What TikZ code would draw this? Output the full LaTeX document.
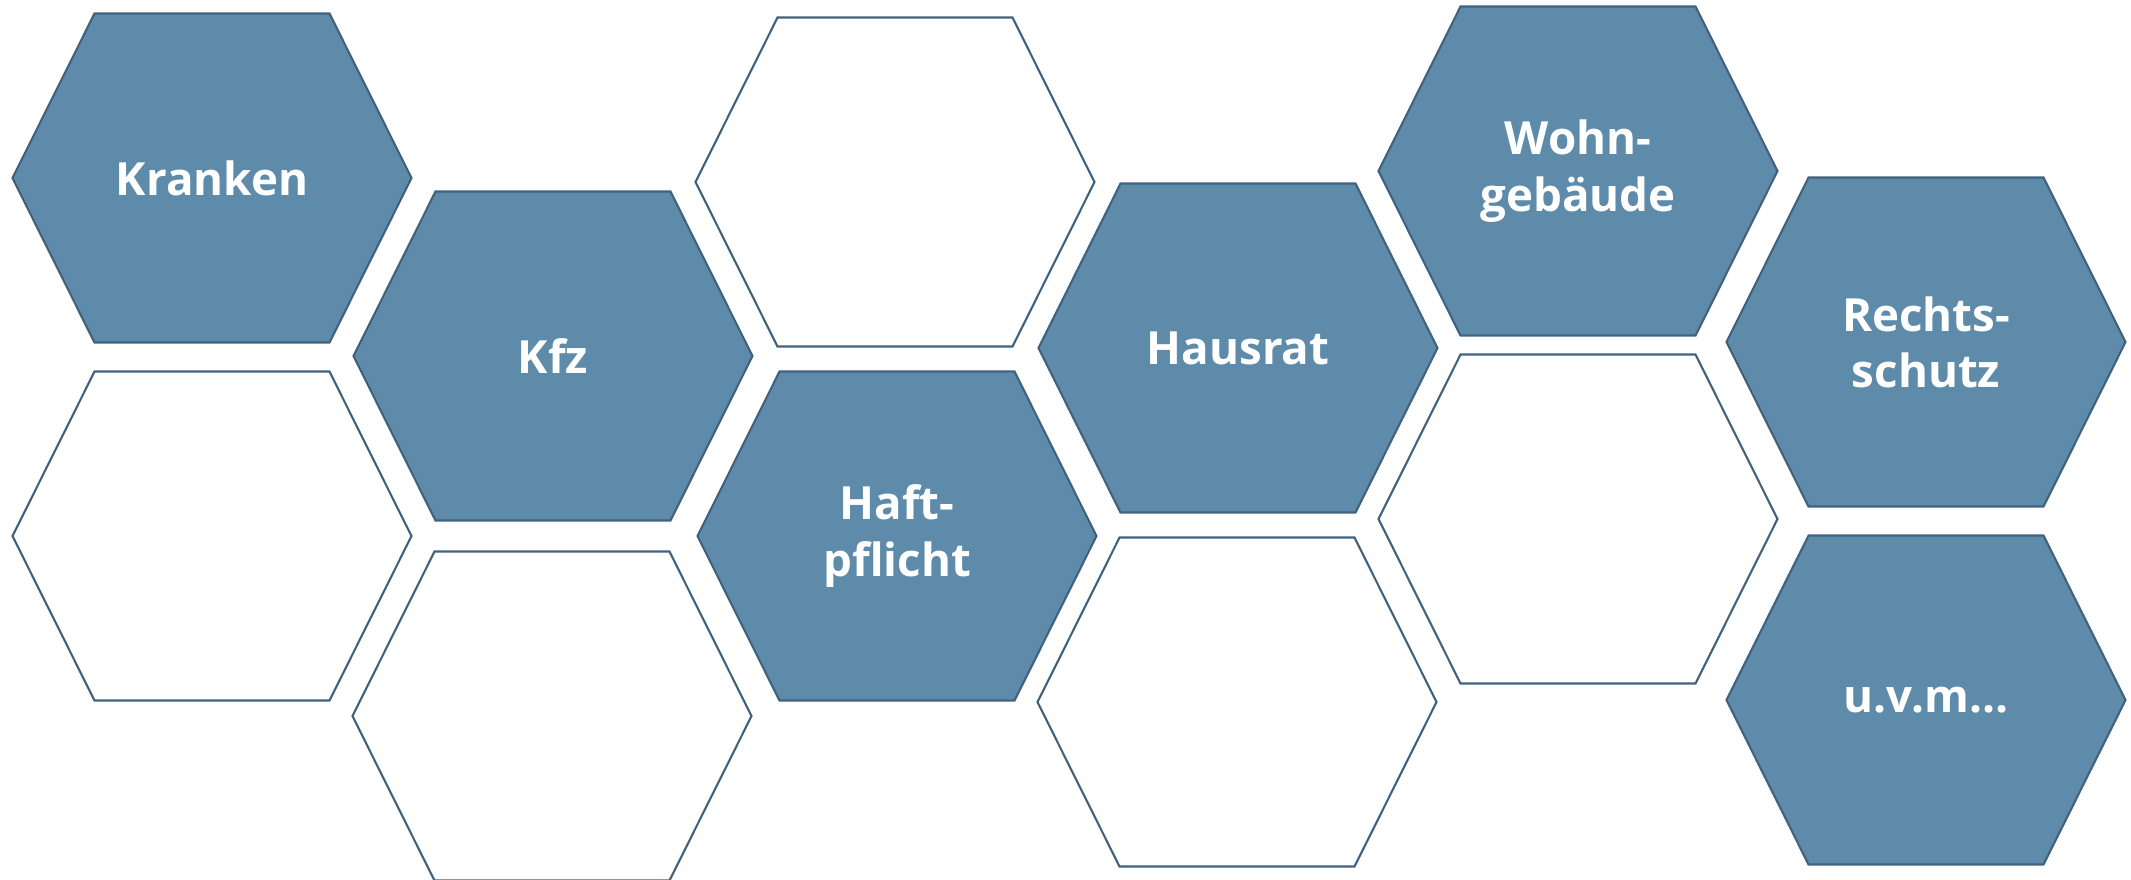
\documentclass[tikz,border=0pt]{standalone}
\usepackage{fontspec}
\setmainfont{Open Sans}
\usepackage{xcolor}
\usepackage{tikz}
\usetikzlibrary{shapes.symbols}

\definecolor{hexblue}{HTML}{5F8BAB}
\definecolor{hexedge}{HTML}{41627F}

\begin{document}
\begin{tikzpicture}[
    hex/.style={signal, signal to=east and west, signal pointer angle=127, draw=hexedge, line width=0.6pt, minimum width=3.99cm, minimum height=3.29cm, inner sep=0pt, font=\fontsize{13}{16}\selectfont\bfseries, align=center},
    hexfull/.style={hex, fill=hexblue, text=white},
    hexempty/.style={hex, fill=white},
]
    \useasboundingbox (0,0) rectangle (21.31,-8.79);
    \clip (0,0) rectangle (21.31,-8.79);

    % erste Spalte
    \node[hexfull] (kranken) at (2.12,-1.78) {Kranken};
    \node[hexempty] (leer1) at (2.12,-5.36) {};

    % zweite Spalte
    \node[hexfull] (kfz) at (5.53,-3.56) {Kfz};
    \node[hexempty] (leer2) at (5.52,-7.16) {};

    % dritte Spalte
    \node[hexempty] (leer3) at (8.95,-1.82) {};
    \node[hexfull] (haftpflicht) at (8.97,-5.36) {Haft-\\pflicht};

    % vierte Spalte
    \node[hexfull] (hausrat) at (12.38,-3.48) {Hausrat};
    \node[hexempty] (leer4) at (12.37,-7.02) {};

    % fuenfte Spalte
    \node[hexfull] (wohngebaeude) at (15.78,-1.71) {Wohn-\\gebäude};
    \node[hexempty] (leer5) at (15.78,-5.19) {};

    % sechste Spalte
    \node[hexfull] (rechtsschutz) at (19.26,-3.42) {Rechts-\\schutz};
    \node[hexfull] (uvm) at (19.26,-7.00) {u.v.m…};
\end{tikzpicture}
\end{document}
